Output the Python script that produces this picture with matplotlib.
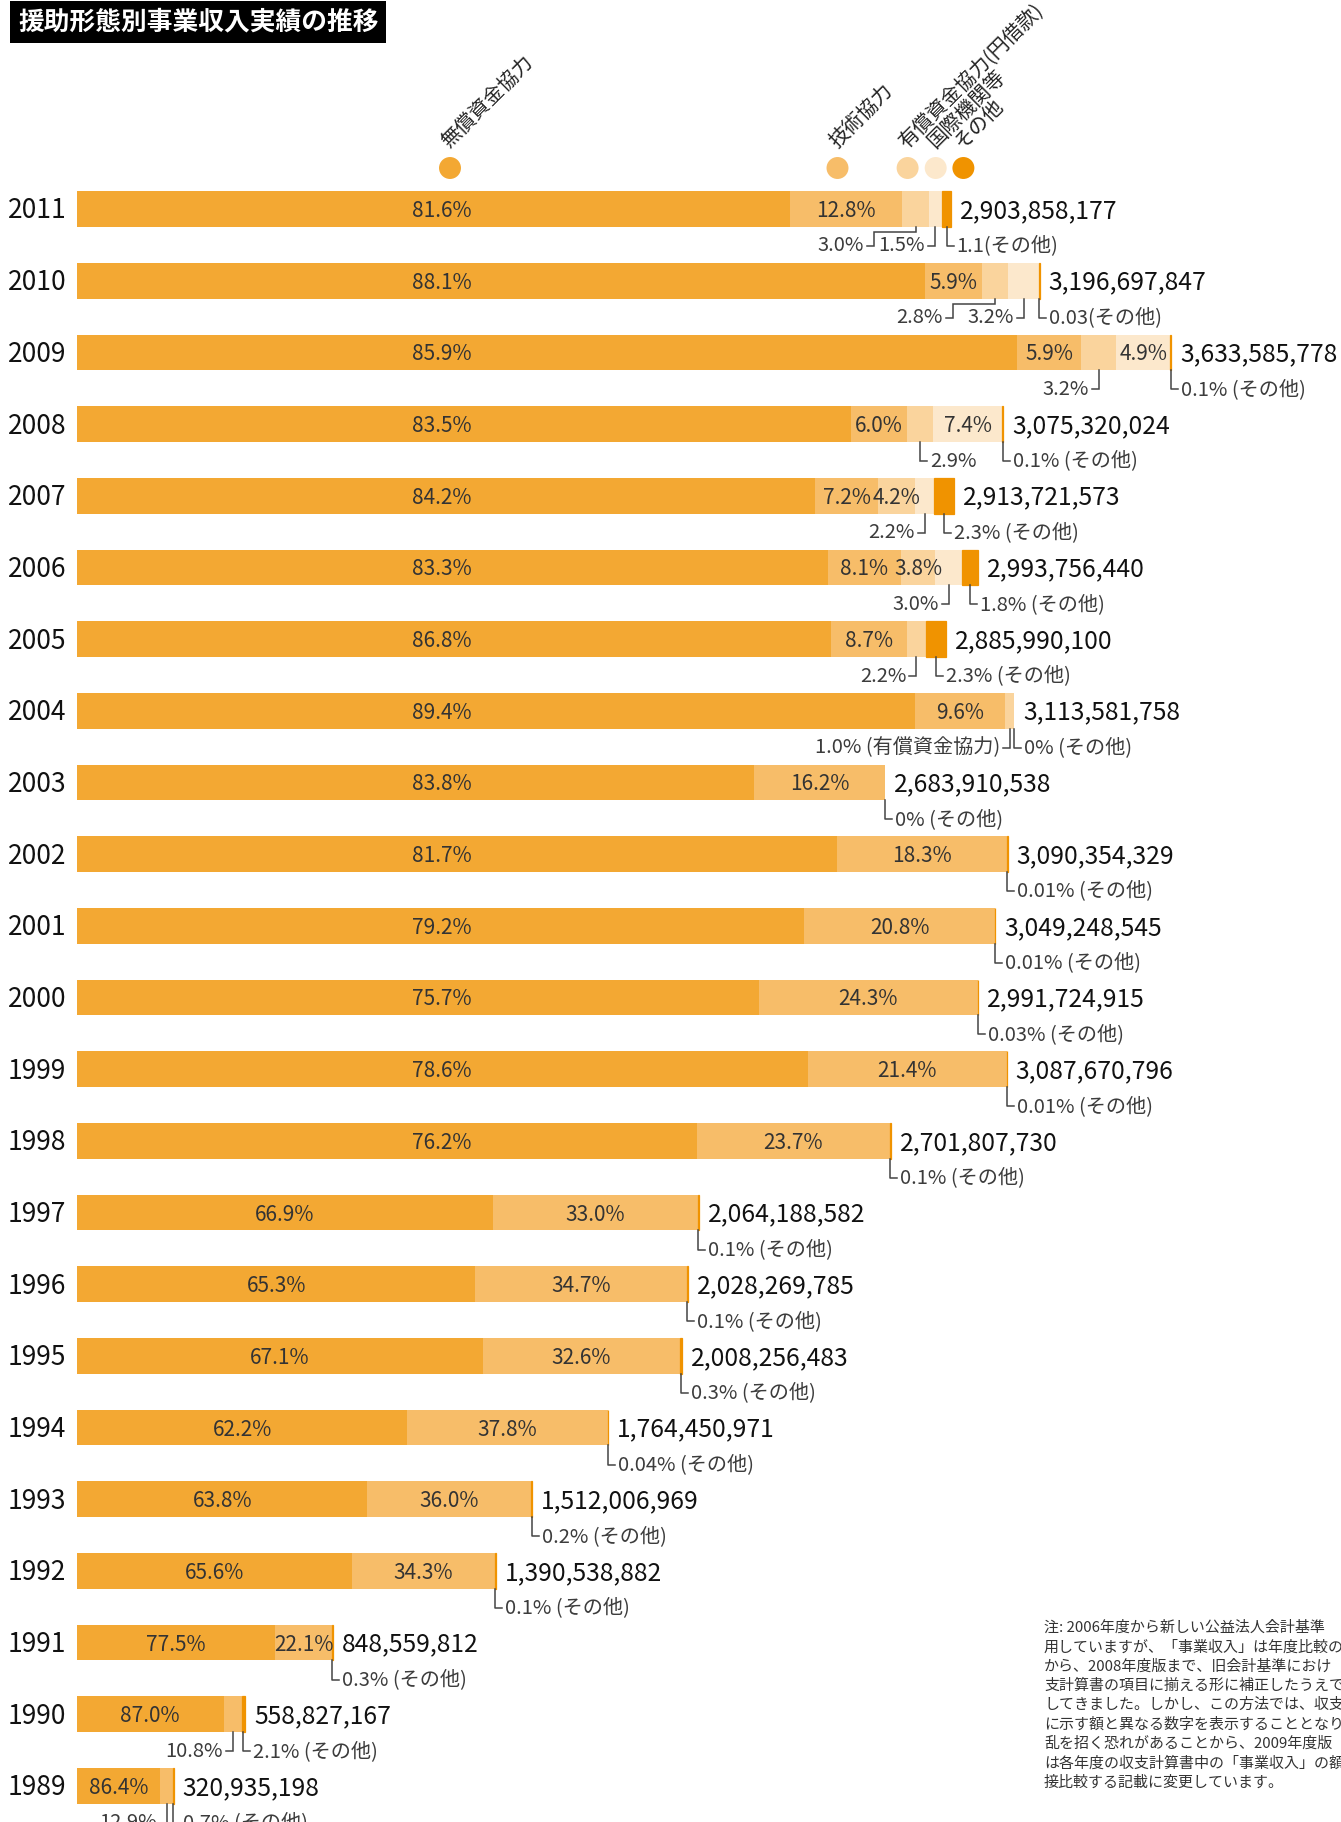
import numpy as np
import matplotlib.pyplot as plt

plt.rcParams['font.family'] = ['Noto Sans CJK JP', 'DejaVu Sans']

# data (shares in %, totals in yen)
years = [2011, 2010, 2009, 2008, 2007, 2006, 2005, 2004, 2003, 2002, 2001, 2000,
         1999, 1998, 1997, 1996, 1995, 1994, 1993, 1992, 1991, 1990, 1989]
totals = [2903858177, 3196697847, 3633585778, 3075320024, 2913721573, 2993756440,
          2885990100, 3113581758, 2683910538, 3090354329, 3049248545, 2991724915,
          3087670796, 2701807730, 2064188582, 2028269785, 2008256483, 1764450971,
          1512006969, 1390538882, 848559812, 558827167, 320935198]
grant = [81.6, 88.1, 85.9, 83.5, 84.2, 83.3, 86.8, 89.4, 83.8, 81.7, 79.2, 75.7,
         78.6, 76.2, 66.9, 65.3, 67.1, 62.2, 63.8, 65.6, 77.5, 87.0, 86.4]
tech = [12.8, 5.9, 5.9, 6.0, 7.2, 8.1, 8.7, 9.6, 16.2, 18.3, 20.8, 24.3,
        21.4, 23.7, 33.0, 34.7, 32.6, 37.8, 36.0, 34.3, 22.1, 10.8, 12.9]
loan = [3.0, 2.8, 3.2, 2.9, 4.2, 3.8, 2.2, 1.0, 0, 0, 0, 0,
        0, 0, 0, 0, 0, 0, 0, 0, 0, 0, 0]
intl = [1.5, 3.2, 4.9, 7.4, 2.2, 3.0, 0, 0, 0, 0, 0, 0,
        0, 0, 0, 0, 0, 0, 0, 0, 0, 0, 0]
other = [1.1, 0.03, 0.1, 0.1, 2.3, 1.8, 2.3, 0, 0, 0.01, 0.01, 0.03,
         0.01, 0.1, 0.1, 0.1, 0.3, 0.04, 0.2, 0.1, 0.3, 2.1, 0.7]
other_labels = ['1.1(その他)', '0.03(その他)', '0.1% (その他)', '0.1% (その他)',
                '2.3% (その他)', '1.8% (その他)', '2.3% (その他)', '0% (その他)',
                '0% (その他)', '0.01% (その他)', '0.01% (その他)', '0.03% (その他)',
                '0.01% (その他)', '0.1% (その他)', '0.1% (その他)', '0.1% (その他)',
                '0.3% (その他)', '0.04% (その他)', '0.2% (その他)', '0.1% (その他)',
                '0.3% (その他)', '2.1% (その他)', '0.7% (その他)']
legend_labels = ['無償資金協力', '技術協力', '有償資金協力(円借款)', '国際機関等', 'その他']
title = '援助形態別事業収入実績の推移'
note_lines = ['注: 2006年度から新しい公益法人会計基準',
              '用していますが、「事業収入」は年度比較の',
              'から、2008年度版まで、旧会計基準におけ',
              '支計算書の項目に揃える形に補正したうえで',
              'してきました。しかし、この方法では、収支計',
              'に示す額と異なる数字を表示することとなり',
              '乱を招く恐れがあることから、2009年度版',
              'は各年度の収支計算書中の「事業収入」の額',
              '接比較する記載に変更しています。']

colors = ['#F3A833', '#F7BD69', '#FAD49D', '#FCE8CC', '#F09300']

# layout tweaks for outside labels
side_right = {(2008, 2)}
elbows = {(2011, 2): -42, (2010, 2): -42}
custom_text = {(2004, 2): '1.0% (有償資金協力)'}

W, H = 1341, 1822
X0, SCALE = 77, 301.1          # px where bars start, px per billion yen
Y0, ROW = 209, 71.68           # px of first row center, px per row
PX = 1 / SCALE
RY = 1 / ROW

fig = plt.figure(figsize=(W / 100, H / 100), dpi=100)
ax = fig.add_axes([0, 0, 1, 1])
ax.set_xlim(-X0 * PX, (W - X0) * PX)
ax.set_ylim(len(years) - 1 + (H - (Y0 + (len(years) - 1) * ROW)) * RY, -Y0 * RY)
ax.axis('off')


def px(xp, yp):
    return (xp - X0) * PX, (yp - Y0) * RY


rows = np.arange(len(years))
tot = np.array(totals) / 1e9
shares = np.array([grant, tech, loan, intl, other], dtype=float)
widths = shares / shares.sum(axis=0) * tot
lefts = np.vstack([np.zeros(len(years)), np.cumsum(widths, axis=0)[:-1]])
bh = 35.7 * RY

for k in range(5):
    lw = [0.9 if (k == 4 and v > 0) else 0 for v in shares[k]]
    ax.barh(rows, widths[k], left=lefts[k], height=bh, color=colors[k],
            edgecolor=colors[k], linewidth=lw)

pct_fs, ann_fs, big_fs, year_fs = 15, 14.5, 17.8, 19
txt_c, ann_c = '#333333', '#3c3c3c'
line_dy = 37 * RY
text_dy = 37 * RY
tdy = 2 * RY   # small nudge so text sits on the bar centre

for i, y in enumerate(years):
    r = rows[i]
    ax.text(*px(8, Y0 + i * ROW + 2), str(y), ha='left', va='center',
            fontsize=year_fs, color='#111111')
    end = lefts[4][i] + widths[4][i]
    ax.text(end + 9 * PX, r + tdy, f'{totals[i]:,}', ha='left', va='center',
            fontsize=big_fs, color='#111111')
    for k in range(4):
        v = shares[k][i]
        if v <= 0:
            continue
        l, w = lefts[k][i], widths[k][i]
        inside = v >= 3.5 and w / PX >= 25
        if inside:
            if k == 0 and l + w > 1.61:
                xc = 1.212
            else:
                xc = l + w / 2
            ax.text(xc, r + tdy, f'{v:.1f}%', ha='center', va='center',
                    fontsize=pct_fs, color=txt_c)
            continue
        # outside label with leader line
        ax_x = l + w / 2
        label = custom_text.get((y, k), f'{v:.1f}%')
        top = r + bh / 2
        ly = r + line_dy
        if (y, k) in elbows:
            ex = ax_x + elbows[(y, k)] * PX
            ym = top + 5 * RY
            xs = [ax_x, ax_x, ex, ex]
            ys = [top, ym, ym, ly]
        else:
            ex = ax_x
            xs = [ax_x, ax_x]
            ys = [top, ly]
        if (y, k) in side_right:
            xs += [ex + 7 * PX]
            ys += [ly]
            ax.text(ex + 10 * PX, r + text_dy, label, ha='left', va='center',
                    fontsize=ann_fs, color=ann_c)
        else:
            xs += [ex - 7 * PX]
            ys += [ly]
            ax.text(ex - 10 * PX, r + text_dy, label, ha='right', va='center',
                    fontsize=ann_fs, color=ann_c)
        ax.plot(xs, ys, color='#444444', lw=1.1, solid_joinstyle='miter')
    # その他 label
    ox = lefts[4][i] + widths[4][i] / 2
    top = r + bh / 2
    ly = r + line_dy
    ax.plot([ox, ox, ox + 7 * PX], [top, ly, ly], color='#444444', lw=1.1)
    ax.text(ox + 10 * PX, r + text_dy, other_labels[i], ha='left', va='center',
            fontsize=ann_fs, color=ann_c)

# legend dots with rotated labels
leg_px = [450, 837.5, 907.6, 935.7, 963.4]
for k, xp in enumerate(leg_px):
    ax.scatter(*px(xp, 168), s=250, color=colors[k], edgecolors='none', zorder=3)
    ax.text(*px(xp - 5, 168 - 23), legend_labels[k], rotation=45,
            rotation_mode='anchor', ha='left', va='center', fontsize=14.5,
            color='#222222')

# title
fig.text(18 / W, 1 - 22 / H, title, color='white', fontsize=18.5, fontweight='bold',
         ha='left', va='center',
         bbox=dict(facecolor='black', edgecolor='none', boxstyle='square,pad=0.3'))

# note
for j, line in enumerate(note_lines):
    fig.text(1044 / W, 1 - (1628 + j * 19.3) / H, line, fontsize=10.8,
             color='#333333', ha='left', va='center')

fig.savefig('out.png', dpi=100, facecolor='white')
